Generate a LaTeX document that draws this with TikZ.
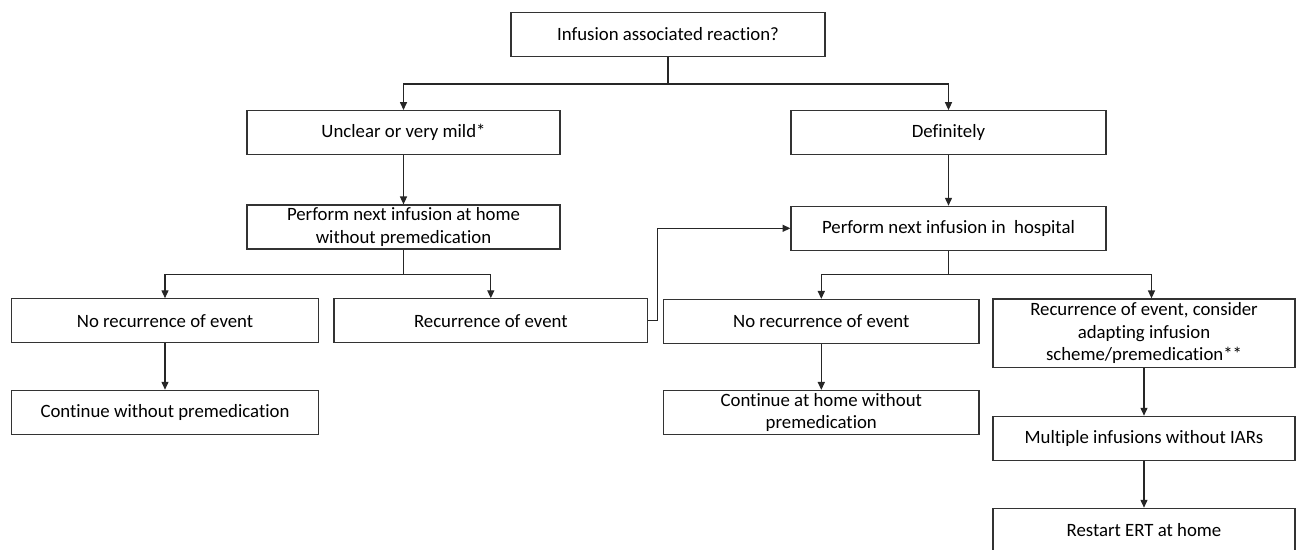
\documentclass[tikz,border=0pt]{standalone}
\usepackage{fontspec}
\setmainfont[Ligatures={NoCommon}]{Carlito}
\usetikzlibrary{arrows.meta}
\tikzset{
  box/.style={draw=black!80, line width=0.7pt, align=center, inner sep=1pt,
    minimum height=0.88cm, font=\fontsize{10.7pt}{12.9pt}\selectfont},
  link/.style={draw=black!85, line width=0.7pt, -{Triangle[length=4.5pt,width=4pt]}}
}
\begin{document}
\begin{tikzpicture}[x=0.02cm,y=-0.02cm]
      \clip (0,0) rectangle (1296,549);
      \draw
        (668,34.5) node[box, minimum width=6.28cm] (q){Infusion associated reaction?}
        (403.5,132.6) node[box, minimum width=6.26cm] (unclear){Unclear or very mild*}
        (948.5,132.7) node[box, minimum width=6.30cm] (definite){Definitely}
        (403.5,227) node[box, minimum width=6.26cm] (home){Perform next infusion at home\\without premedication}
        (948.5,228.3) node[box, minimum width=6.30cm] (hosp){Perform next infusion in\ \ hospital}
        (165,320.8) node[box, minimum width=6.13cm] (norecA){No recurrence of event}
        (490.8,320.8) node[box, minimum width=6.27cm] (recA){Recurrence of event}
        (165,412.3) node[box, minimum width=6.13cm] (contA){Continue without premedication}
        (821.3,321.5) node[box, minimum width=6.31cm] (norecB){No recurrence of event}
        (821.3,412.5) node[box, minimum width=6.31cm] (contB){Continue at home without\\premedication}
        (1144,333.2) node[box, minimum width=6.04cm, minimum height=1.37cm] (recB){Recurrence of event, consider\\adapting infusion\\scheme/premedication**}
        (1144,438.3) node[box, minimum width=6.04cm] (multi){Multiple infusions without IARs}
        (1144,530.3) node[box, minimum width=6.04cm] (restart){Restart ERT at home};
      \coordinate (qsplit) at (668,84);
      \coordinate (homesplit) at (403.5,274.7);
      \coordinate (hospsplit) at (948.5,274.7);
      \begin{scope}[link]
        \draw (q.south) -- (qsplit) -| (unclear.north);
        \draw (qsplit) -| (definite.north);
        \draw (unclear) to (home);
        \draw (definite) to (hosp);
        \draw (home.south) -- (homesplit) -| (norecA.north);
        \draw (homesplit) -| (recA.north);
        \draw (norecA) to (contA);
        \draw (recA.east) -- ++(9,0) |- (hosp.west);
        \draw (hosp.south) -- (hospsplit) -| (norecB.north);
        \draw (hospsplit) -| ([xshift=0.15cm]recB.north);
        \draw (norecB) to (contB);
        \draw (recB) to (multi);
        \draw (multi) to (restart);
      \end{scope}
    \end{tikzpicture}
\end{document}
